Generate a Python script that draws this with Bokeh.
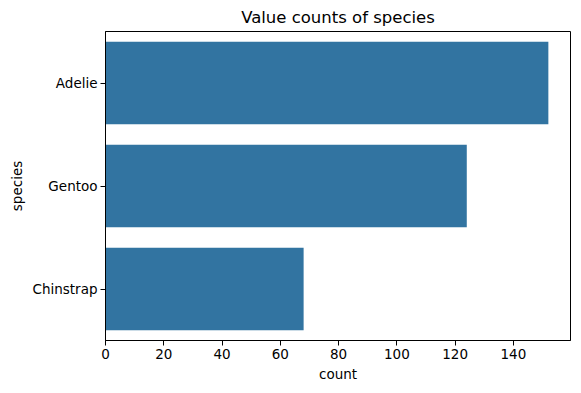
from bokeh.plotting import figure
from bokeh.models import FactorRange, Range1d, FixedTicker, ColumnDataSource
from bokeh.embed import file_html
from bokeh.resources import INLINE

species = ["Adelie", "Gentoo", "Chinstrap"]
counts = [152, 124, 68]
x_ticks = [0, 20, 40, 60, 80, 100, 120, 140]

src = ColumnDataSource(dict(species=species, count=counts))

p = figure(frame_width=465, frame_height=309, output_backend="svg", toolbar_location=None,
           y_range=FactorRange(factors=list(reversed(species)), range_padding=0),
           x_range=Range1d(0, max(counts) * 1.05),
           title="Value counts of species",
           min_border_left=105, min_border_right=2, min_border_top=23, min_border_bottom=44)

p.hbar(y="species", right="count", left=0, height=0.8, source=src,
       fill_color="#3274a1", line_color=None)

p.title.align = "center"
p.title.text_font = "DejaVu Sans"
p.title.text_font_size = "16.5px"
p.title.text_font_style = "normal"
p.title.text_color = "black"

p.xgrid.visible = False
p.ygrid.visible = False
p.outline_line_color = "black"
p.outline_line_width = 1
p.background_fill_color = "white"
p.border_fill_color = "white"

p.xaxis.ticker = FixedTicker(ticks=x_ticks)
p.xaxis.axis_label = "count"
p.yaxis.axis_label = "species"
for ax in (p.xaxis[0], p.yaxis[0]):
    ax.axis_label_text_font = "DejaVu Sans"
    ax.axis_label_text_font_size = "13.5px"
    ax.axis_label_text_font_style = "normal"
    ax.axis_label_text_color = "black"
    ax.major_label_text_font = "DejaVu Sans"
    ax.major_label_text_font_size = "13.5px"
    ax.major_label_text_color = "black"
    ax.axis_line_color = "black"
    ax.major_tick_line_color = "black"
    ax.major_tick_out = 5
    ax.major_tick_in = 0
    ax.minor_tick_line_color = None
    ax.major_label_standoff = 3
    ax.axis_label_standoff = 4
p.yaxis.major_label_orientation = "horizontal"

open("out.html", "w").write(file_html(p, INLINE))
